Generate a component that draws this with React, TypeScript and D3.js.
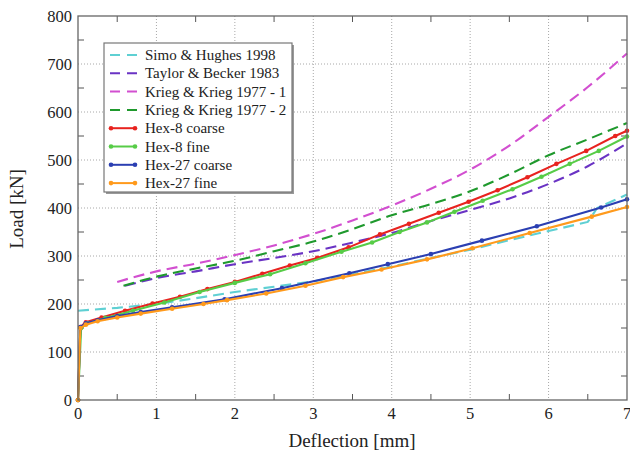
import React from "react";
import * as d3 from "d3";

const simoD = [0, 0.5, 1, 1.5, 2, 2.5, 3, 3.5, 4, 4.5, 5, 5.5, 6, 6.5, 6.62, 7];
const simoL = [186, 192, 200, 212, 225, 236, 247, 262, 278, 296, 313, 333, 352, 371, 400, 428];

const taylorD = [0.6, 1, 1.5, 2, 2.5, 3, 3.5, 4, 4.5, 5, 5.5, 6, 6.5, 7];
const taylorL = [238, 254, 268, 283, 296, 310, 328, 348, 373, 396, 420, 450, 487, 535];

const krieg1D = [0.5, 1, 1.5, 2, 2.5, 3, 3.5, 4, 4.5, 5, 5.5, 6, 6.5, 7];
const krieg1L = [246, 268, 284, 302, 322, 346, 374, 405, 440, 480, 530, 590, 652, 722];

const krieg2D = [0.58, 1, 1.5, 2, 2.5, 3, 3.5, 4, 4.5, 5, 5.5, 6, 6.5, 7];
const krieg2L = [238, 257, 274, 290, 310, 330, 356, 385, 408, 435, 470, 510, 543, 577];

const hex8cD = [0, 0.03, 0.1, 0.3, 0.6, 0.95, 1.3, 1.65, 2.0, 2.35, 2.7, 3.05, 3.45, 3.85, 4.22, 4.6, 4.98, 5.35, 5.73, 6.1, 6.48, 6.85, 7.0];
const hex8cL = [0, 152, 162, 172, 186, 201, 215, 231, 246, 263, 280, 296, 318, 345, 367, 390, 413, 437, 464, 492, 519, 550, 561];

const hex8fD = [0, 0.04, 0.12, 0.35, 0.7, 1.1, 1.55, 2.0, 2.45, 2.9, 3.36, 3.75, 4.1, 4.45, 4.8, 5.16, 5.54, 5.91, 6.27, 6.64, 7.0];
const hex8fL = [0, 150, 160, 171, 186, 203, 225, 244, 262, 285, 309, 328, 350, 370, 392, 415, 439, 465, 492, 519, 549];

const hex27cD = [0, 0.03, 0.1, 0.25, 0.5, 0.8, 1.2, 1.87, 2.6, 3.46, 3.95, 4.5, 5.15, 5.85, 6.67, 7.0];
const hex27cL = [0, 152, 160, 166, 175, 183, 193, 210, 233, 264, 283, 304, 332, 362, 401, 418];

const hex27fD = [0, 0.03, 0.1, 0.25, 0.5, 0.8, 1.2, 1.6, 1.9, 2.4, 2.9, 3.38, 3.87, 4.45, 5.03, 5.76, 6.55, 7.0];
const hex27fL = [0, 150, 157, 164, 172, 180, 190, 200, 208, 222, 238, 256, 272, 293, 316, 348, 382, 402];

const xTicks = [0, 1, 2, 3, 4, 5, 6, 7];
const yTicks = [0, 100, 200, 300, 400, 500, 600, 700, 800];
const xMinor = [0.5, 1.5, 2.5, 3.5, 4.5, 5.5, 6.5];
const yMinor = [50, 150, 250, 350, 450, 550, 650, 750];

type Series = { name: string; d: number[]; l: number[]; color: string; dashed: boolean };

const series: Series[] = [
  { name: "Simo & Hughes 1998", d: simoD, l: simoL, color: "#5fd0d3", dashed: true },
  { name: "Taylor & Becker 1983", d: taylorD, l: taylorL, color: "#6a33c4", dashed: true },
  { name: "Krieg & Krieg 1977 - 1", d: krieg1D, l: krieg1L, color: "#d24fd0", dashed: true },
  { name: "Krieg & Krieg 1977 - 2", d: krieg2D, l: krieg2L, color: "#1f992d", dashed: true },
  { name: "Hex-8 coarse", d: hex8cD, l: hex8cL, color: "#e8231f", dashed: false },
  { name: "Hex-8 fine", d: hex8fD, l: hex8fL, color: "#57cc47", dashed: false },
  { name: "Hex-27 coarse", d: hex27cD, l: hex27cL, color: "#2b3fb2", dashed: false },
  { name: "Hex-27 fine", d: hex27fD, l: hex27fL, color: "#ff9a1c", dashed: false },
];

const W = 630, H = 463;
const L0 = 78, R0 = 627, T0 = 16, B0 = 400;
const FONT = "'Liberation Serif', 'Times New Roman', serif";

export default function App() {
  const x = d3.scaleLinear().domain([0, 7]).range([L0, R0]);
  const y = d3.scaleLinear().domain([0, 800]).range([B0, T0]);
  const line = d3.line<[number, number]>().x((p) => x(p[0])).y((p) => y(p[1]));
  const smooth = d3.line<[number, number]>().x((p) => x(p[0])).y((p) => y(p[1])).curve(d3.curveMonotoneX);

  const legX = 104, legY = 43, legW = 188, legH = 149;
  return (
    <svg width={W} height={H} style={{ position: "absolute", left: 0, top: 0, background: "#fff" }}>
      <rect x={0} y={0} width={W} height={H} fill="#fff" />
      {xTicks.slice(1, -1).map((t) => (
        <line key={"gx" + t} x1={x(t)} x2={x(t)} y1={T0} y2={B0} stroke="#a8a8a8" strokeWidth={1} strokeDasharray="1,2" />
      ))}
      {yTicks.slice(1, -1).map((t) => (
        <line key={"gy" + t} x1={L0} x2={R0} y1={y(t)} y2={y(t)} stroke="#a8a8a8" strokeWidth={1} strokeDasharray="1,2" />
      ))}
      {xMinor.map((t) => (
        <g key={"mx" + t}>
          <line x1={x(t)} x2={x(t)} y1={B0} y2={B0 - 6} stroke="#555" />
          <line x1={x(t)} x2={x(t)} y1={T0} y2={T0 + 6} stroke="#555" />
        </g>
      ))}
      {yMinor.map((t) => (
        <g key={"my" + t}>
          <line x1={L0} x2={L0 + 6} y1={y(t)} y2={y(t)} stroke="#555" />
          <line x1={R0} x2={R0 - 6} y1={y(t)} y2={y(t)} stroke="#555" />
        </g>
      ))}
      {series.map((s) => {
        const pts = s.d.map((dv, k) => [dv, s.l[k]] as [number, number]);
        const gen = s.dashed && s.name !== "Simo & Hughes 1998" ? smooth : line;
        return (
          <g key={s.name}>
            <path d={gen(pts) || ""} fill="none" stroke={s.color} strokeWidth={2.1}
              strokeDasharray={s.dashed ? "11,6" : undefined} />
            {!s.dashed && pts.map((p, k) => (
              <circle key={k} cx={x(p[0])} cy={y(p[1])} r={2.3} fill={s.color} />
            ))}
          </g>
        );
      })}
      <rect x={L0} y={T0} width={R0 - L0} height={B0 - T0} fill="none" stroke="#666" strokeWidth={1.3} />
      {xTicks.map((t) => (
        <text key={"xl" + t} x={x(t)} y={419} textAnchor="middle" fontFamily={FONT} fontSize={16.5} fill="#222">{t}</text>
      ))}
      {yTicks.map((t) => (
        <text key={"yl" + t} x={72} y={y(t) + 5.5} textAnchor="end" fontFamily={FONT} fontSize={16.5} fill="#222">{t}</text>
      ))}
      <text x={352} y={447} textAnchor="middle" fontFamily={FONT} fontSize={19} fill="#222">Deflection [mm]</text>
      <text transform="translate(23,209) rotate(-90)" textAnchor="middle" fontFamily={FONT} fontSize={19} fill="#222">Load [kN]</text>
      <rect x={legX + 2} y={legY + 2} width={legW} height={legH} fill="#999" />
      <rect x={legX} y={legY} width={legW} height={legH} fill="#fff" stroke="#777" strokeWidth={1.2} />
      {series.map((s, i) => {
        const ly = 55 + i * 18.3;
        return (
          <g key={"lg" + s.name}>
            {s.dashed ? (
              <line x1={110} x2={137} y1={ly} y2={ly} stroke={s.color} strokeWidth={2} strokeDasharray="10,7" />
            ) : (
              <g>
                <line x1={111} x2={135} y1={ly} y2={ly} stroke={s.color} strokeWidth={2} />
                <circle cx={111} cy={ly} r={2.3} fill={s.color} />
                <circle cx={135} cy={ly} r={2.3} fill={s.color} />
              </g>
            )}
            <text x={145} y={ly + 5} fontFamily={FONT} fontSize={15} fill="#222">{s.name}</text>
          </g>
        );
      })}
    </svg>
  );
}
